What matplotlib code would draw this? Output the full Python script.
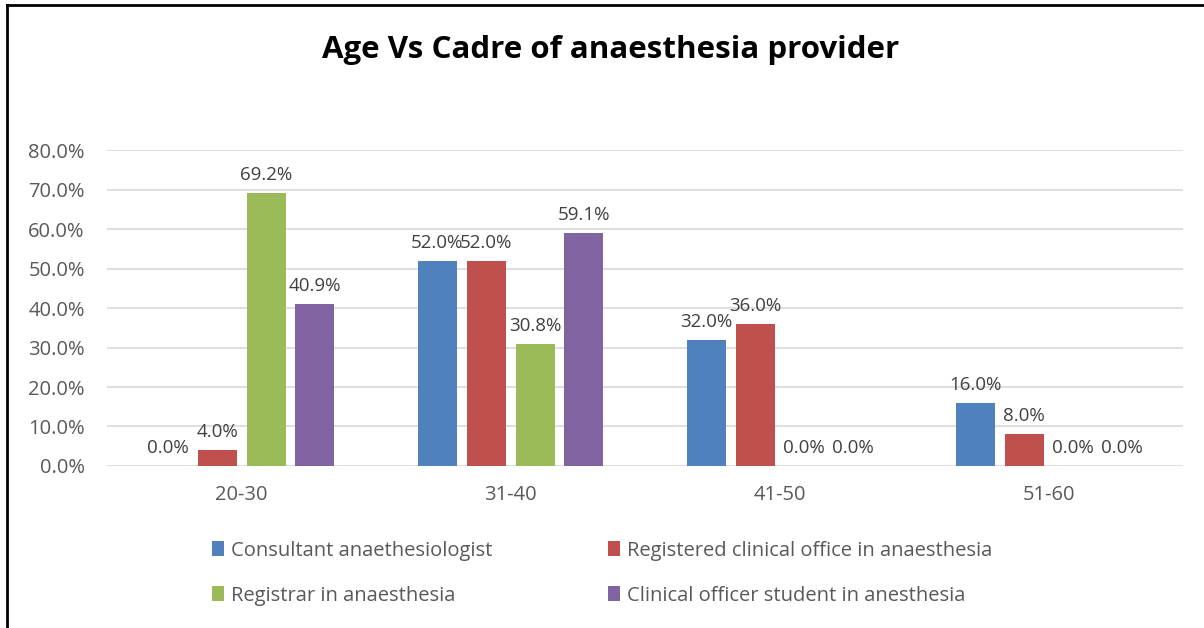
import matplotlib.pyplot as plt
import numpy as np

categories = ['20-30', '31-40', '41-50', '51-60']
series_names = ['Consultant anaethesiologist', 'Registered clinical office in anaesthesia',
                'Registrar in anaesthesia', 'Clinical officer student in anesthesia']
consultant = [0.0, 52.0, 32.0, 16.0]
registered = [4.0, 52.0, 36.0, 8.0]
registrar = [69.2, 30.8, 0.0, 0.0]
student = [40.9, 59.1, 0.0, 0.0]
colors = ['#4F81BD', '#C0504D', '#9BBB59', '#8064A2']

plt.rcParams['font.family'] = ['Open Sans', 'DejaVu Sans']

fig = plt.figure(figsize=(12.04, 6.28), dpi=100)
ax = fig.add_axes([0.0889, 0.258, 0.8937, 0.503])

x = np.arange(len(categories))
width = 0.145
step = 0.182
bars = []
for i, vals in enumerate([consultant, registered, registrar, student]):
    pos = x + (i - 1.5) * step
    b = ax.bar(pos, vals, width, color=colors[i], label=series_names[i], zorder=3)
    bars.append(b)
    for px, v in zip(pos, vals):
        ax.annotate('%.1f%%' % v, (px, v), xytext=(0, 6.5), textcoords='offset points',
                    ha='center', va='bottom', fontsize=13.5, color='#404040')

ax.set_xlim(-0.5, 3.5)
ax.set_ylim(0, 80)
ax.set_yticks(np.arange(0, 81, 10))
ax.set_yticklabels(['%.1f%%' % t for t in np.arange(0, 81, 10)])
ax.set_xticks(x)
ax.set_xticklabels(categories)
ax.tick_params(length=0, labelsize=14.5, colors='#595959')
ax.tick_params(axis='y', pad=16)
ax.tick_params(axis='x', pad=14)
ax.yaxis.grid(True, color='#D9D9D9', linewidth=1.2, zorder=0)
for s in ax.spines.values():
    s.set_visible(False)

fig.text(0.507, 0.920, 'Age Vs Cadre of anaesthesia provider', ha='center', va='center',
         fontsize=22.5, fontweight='bold')

order = [0, 2, 1, 3]
fig.legend([bars[i] for i in order], [series_names[i] for i in order], ncol=2,
           loc='upper left', bbox_to_anchor=(0.161, 0.168), frameon=False,
           fontsize=14.5, labelcolor='#595959', handlelength=0.6, handleheight=0.8,
           handletextpad=0.35, columnspacing=5.75, labelspacing=1.25)

# chart border (left and top)
fig.add_artist(plt.Line2D([0.006, 0.006], [0, 0.992], color='black', linewidth=2))
fig.add_artist(plt.Line2D([0.006, 1.0], [0.992, 0.992], color='black', linewidth=2))

fig.savefig('out.png', dpi=100)
